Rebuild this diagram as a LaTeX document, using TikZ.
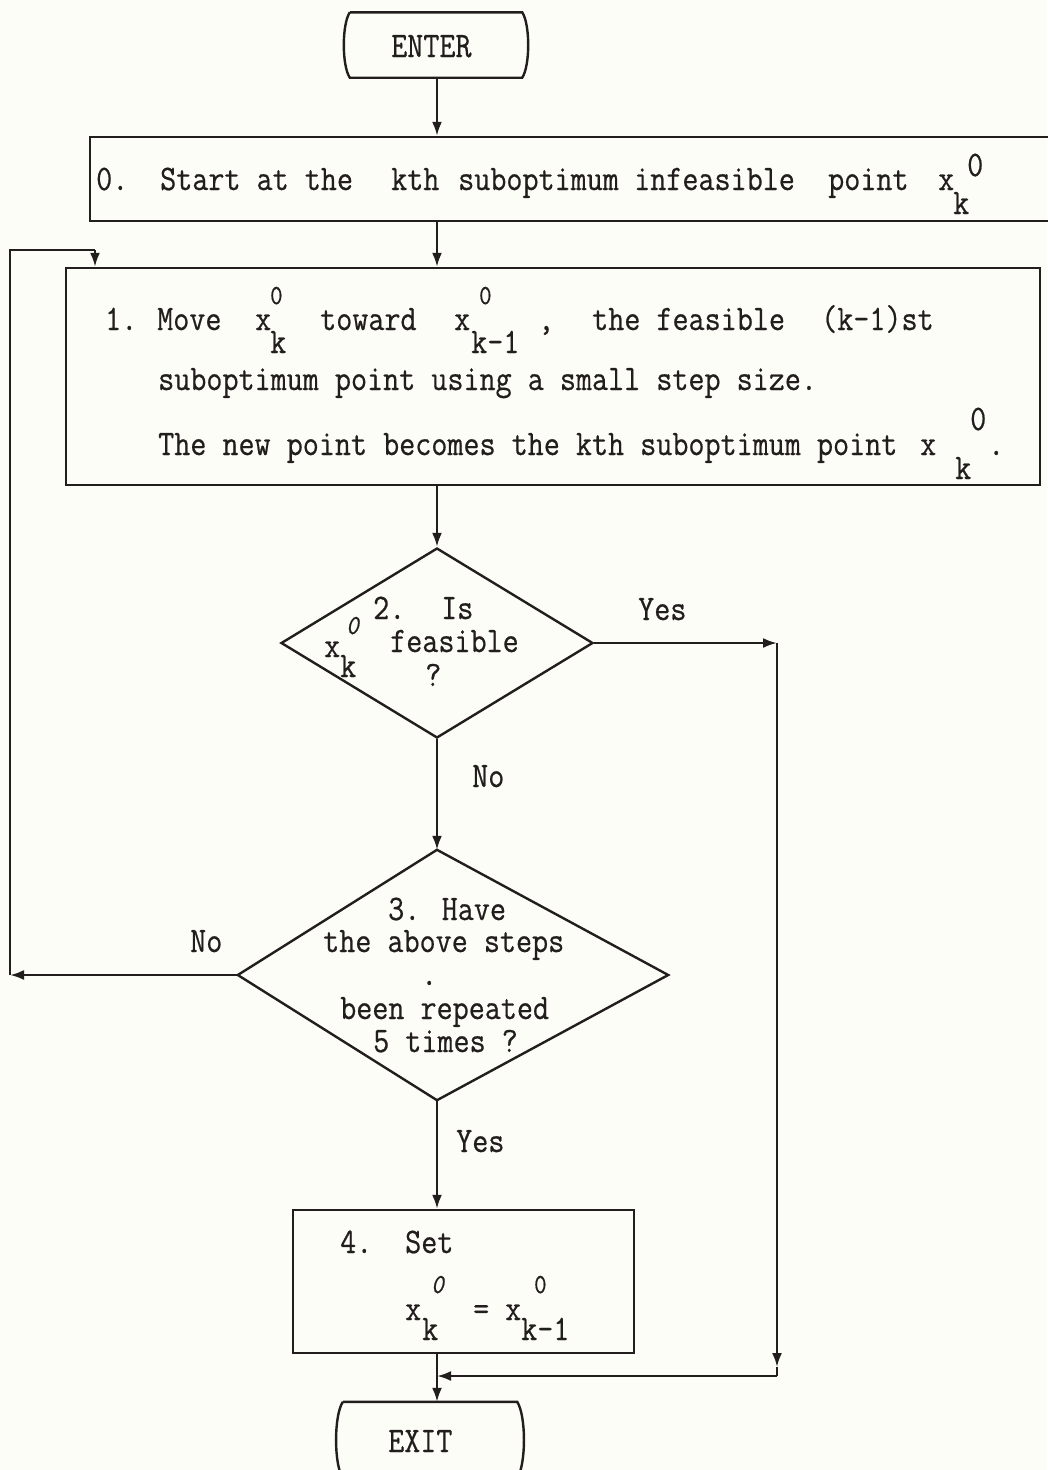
\documentclass[tikz,border=0pt]{standalone}
\usepackage{fontspec}
\usepackage{graphicx}
\usetikzlibrary{arrows.meta,shapes.geometric}
\newfontfamily\tyf{Latin Modern Mono}[FakeBold=0.6]
\newcommand{\tw}[1]{\scalebox{1}[1.15]{#1}}
\definecolor{ink}{RGB}{35,30,30}
\definecolor{paper}{RGB}{253,253,248}
\begin{document}
\begin{tikzpicture}[x=1pt,y=-1pt,
  line/.style={draw=ink, line width=2.4pt},
  arr/.style={line, -{Latex[length=14pt,width=10pt]}},
  boxn/.style={line, rectangle, inner sep=0pt},
  term/.style={inner sep=0pt, draw=none},
  dec/.style={line, diamond, inner sep=0pt},
  txt/.style={font=\tyf\fontsize{31.2}{34}\selectfont, text=ink, anchor=base west, inner sep=0pt},
  sm/.style={txt, font=\tyf\fontsize{24}{28}\selectfont},
  smi/.style={txt, font=\tyf\itshape\fontsize{24}{28}\selectfont},
]
\fill[paper] (0,0) rectangle (1047,1470);
\useasboundingbox (0,0) rectangle (1047,1470);

% ---- shapes
\node[term, minimum width=172pt, minimum height=65pt] (enter) at (436,45) {};
\draw[line] (enter.north west) -- (enter.north east)
  .. controls +(8,12) and +(8,-12) .. (enter.south east)
  -- (enter.south west)
  .. controls +(-8,-12) and +(-8,12) .. (enter.north west);

\node[boxn, minimum width=970pt, minimum height=84pt] (b0) at (575,179) {};
\node[boxn, minimum width=974pt, minimum height=217pt] (b1) at (553,376.5) {};
\node[dec, minimum width=312pt, minimum height=190pt] (d2) at (437,643) {};
\node[term, minimum width=430pt, minimum height=250pt] (d3) at (453,975) {};
\draw[line] (d2.south |- d3.north) -- (d3.east) -- (d2.south |- d3.south) -- (d3.west) -- cycle;
\node[boxn, minimum width=341pt, minimum height=143pt] (b4) at (463.5,1281.5) {};
\node[term, minimum width=174pt, minimum height=76pt] (exit) at (430,1440) {};
\draw[line] (exit.north west) -- (exit.north east)
  .. controls +(9,14) and +(9,-14) .. (exit.south east)
  -- (exit.south west)
  .. controls +(-9,-14) and +(-9,14) .. (exit.north west);

% ---- texts
\node[txt] (tenter) at (391,57) {\tw{ENTER}};

\node[txt] (t0a) at (96,190) {\tw{0.}};
\node[txt] (t0b) at (160,190) {\tw{Start at the}};
\node[txt] (t0c) at (391,190) {\tw{kth}};
\node[txt] (t0d) at (458,190) {\tw{suboptimum}};
\node[txt] (t0e) at (634,190) {\tw{infeasible}};
\node[txt] (t0f) at (828,190) {\tw{point}};
\node[txt] (t0x) at (938,190) {\tw{x}};
\node[txt] (t0s) at (967,176) {\tw{0}};
\node[txt] (t0k) at (953,214) {\tw{k}};

\node[txt] (t1a) at (105,330) {\tw{1.}};
\node[txt] (t1b) at (157,330) {\tw{Move}};
\node[txt] (t1x1) at (255,330) {\tw{x}};
\node[sm]  (t1s1) at (270,304) {\tw{0}};
\node[txt] (t1k1) at (270,353) {\tw{k}};
\node[txt] (t1c) at (320,330) {\tw{toward}};
\node[txt] (t1x2) at (454,330) {\tw{x}};
\node[sm]  (t1s2) at (479,304) {\tw{0}};
\node[txt] (t1k2) at (471,353) {\tw{k-1}};
\node[txt] (t1d) at (538,330) {\tw{,}};
\node[txt] (t1e) at (592,330) {\tw{the feasible}};
\node[txt] (t1f) at (821,330) {\tw{(k-1)st}};
\node[txt] (t1g) at (158,390) {\tw{suboptimum point using a small step size.}};
\node[txt] (t1h) at (158,455) {\tw{The new point becomes the kth suboptimum point}};
\node[txt] (t1x3) at (920,455) {\tw{x}};
\node[txt] (t1s3) at (970,430) {\tw{0}};
\node[txt] (t1k3) at (955,479) {\tw{k}};
\node[txt] (t1p) at (988,455) {\tw{.}};

\node[txt] (t2a) at (373,619) {\tw{2.}};
\node[txt] (t2b) at (441,619) {\tw{Is}};
\node[txt] (t2x) at (324,657) {\tw{x}};
\node[smi] (t2s) at (346,634) {\tw{0}};
\node[txt] (t2k) at (340,677) {\tw{k}};
\node[txt] (t2c) at (390,652) {\tw{feasible}};
\node[txt] (t2q) at (425,686) {\tw{?}};

\node[txt] (y1) at (638,620) {\tw{Yes}};
\node[txt] (n1) at (472,787) {\tw{No}};

\node[txt] (t3a) at (388,920) {\tw{3. Have}};
\node[txt] (t3b) at (323,952) {\tw{the above steps}};
\node[txt] (t3c) at (421,985) {\tw{.}};
\node[txt] (t3d) at (340,1019) {\tw{been repeated}};
\node[txt] (t3e) at (373,1052) {\tw{5 times ?}};

\node[txt] (n2) at (190,952) {\tw{No}};
\node[txt] (y2) at (456,1152) {\tw{Yes}};

\node[txt] (t4a) at (340,1253) {\tw{4.}};
\node[txt] (t4b) at (405,1253) {\tw{Set}};
\node[txt] (t4x1) at (405,1320) {\tw{x}};
\node[smi] (t4s1) at (431,1293) {\tw{0}};
\node[txt] (t4k1) at (422,1340) {\tw{k}};
\node[txt] (t4e) at (473,1320) {\tw{=}};
\node[txt] (t4x2) at (505,1320) {\tw{x}};
\node[sm]  (t4s2) at (534,1293) {\tw{0}};
\node[txt] (t4k2) at (521,1340) {\tw{k-1}};

\node[txt] (texit) at (388,1452) {\tw{EXIT}};

% ---- connectors
\coordinate (rc1) at (777,643);
\coordinate (rcm) at (777,1367);
\coordinate (rc2) at (777,1376);
\coordinate (mg) at (437,1376);
\coordinate (L1) at (10,975);
\coordinate (L2) at (10,250);
\coordinate (L3) at (95,250);

\draw[arr] (enter.south -| d2.north) -- (d2.north |- b0.north);
\draw[arr] (d2.north |- b0.south) -- (d2.north |- b1.north);
\draw[arr] (d2.north |- b1.south) -- (d2.north);
\draw[arr] (d2.east) -- (rc1);
\draw[arr] (rc1) -- (rcm);
\draw[line] (rcm) -- (rc2);
\draw[arr] (rc2) -- (mg);
\draw[arr] (d2.south) -- (d2.south |- d3.north);
\draw[arr] (d3.west) -- (L1);
\draw[line] (L1) -- (L2) -- (L3);
\draw[arr] (L3) -- (L3 |- b1.north);
\draw[arr] (d2.south |- d3.south) -- (d2.south |- b4.north);
\draw[arr] (d2.south |- b4.south) -- (d2.south |- exit.north);
\end{tikzpicture}
\end{document}
